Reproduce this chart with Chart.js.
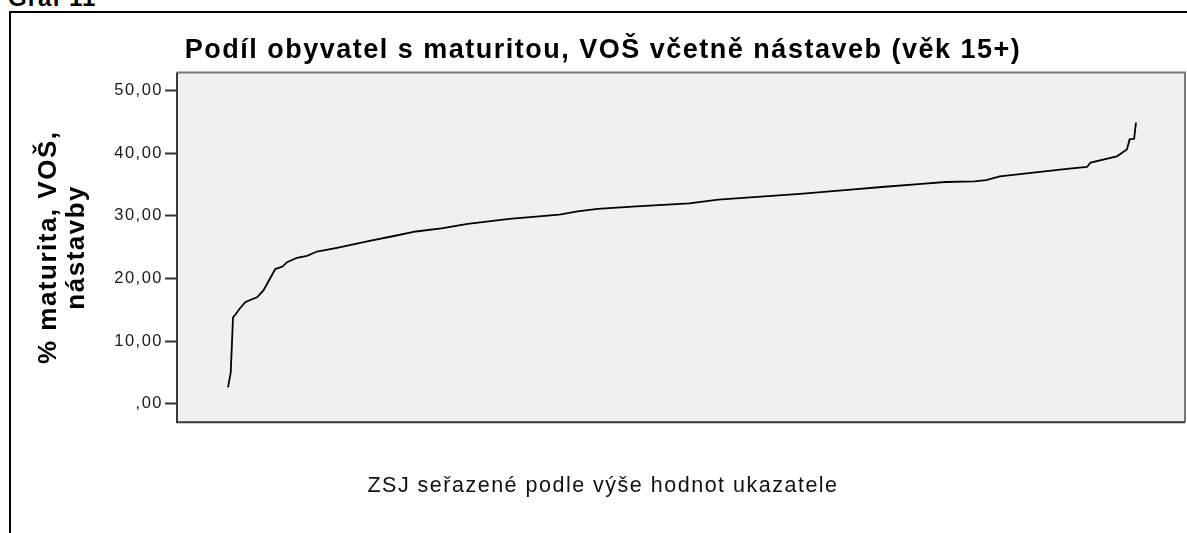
<!DOCTYPE html>
<html>
<head>
<meta charset="utf-8">
<script src="https://cdn.jsdelivr.net/npm/chart.js@4/dist/chart.umd.min.js"></script>
<style>
  html, body { margin: 0; padding: 0; background: #fff; overflow: hidden; }
  #graf { position: absolute; left: 8px; top: -14px; font: bold 24px "Liberation Sans", Arial, sans-serif; color: #000; line-height: 24px; letter-spacing: 1px; }
  #ramec { position: absolute; left: 9px; top: 11px; width: 1400px; height: 800px; border-left: 2px solid #000; border-top: 2px solid #000; }
  #wrap { position: absolute; left: 0; top: 0; width: 1187px; height: 533px; }
</style>
</head>
<body>
<div id="graf">Graf 11</div>
<div id="ramec"></div>
<div id="wrap"><canvas id="graf11"></canvas></div>
<script>
// poradi ZSJ (v % z poctu jednotek) a podil obyvatel s maturitou
const poradi = [0, 0.3, 0.55, 0.8, 1.3, 1.9, 2.5, 3.2, 3.9, 4.4, 5.2, 6.0, 6.5, 7.6, 8.7, 9.8, 12.0, 15.6, 18.0, 20.7, 23.5, 26.4, 31, 36.5, 38.5, 40.7, 45, 50.8, 54, 57.9, 63, 68.6, 72, 76.4, 79, 82.2, 83.5, 85.0, 88.7, 92.4, 94.6, 95.0, 97.9, 99.0, 99.3, 99.8, 100];
const podil = [2.6, 5.0, 13.8, 14.2, 15.2, 16.2, 16.6, 17.0, 18.1, 19.4, 21.5, 21.9, 22.6, 23.3, 23.6, 24.3, 24.9, 26.0, 26.7, 27.5, 28.0, 28.7, 29.5, 30.2, 30.7, 31.1, 31.5, 32.0, 32.6, 33.0, 33.5, 34.2, 34.6, 35.1, 35.4, 35.5, 35.7, 36.3, 36.9, 37.5, 37.8, 38.5, 39.5, 40.6, 42.2, 42.3, 44.9];
const yTicks = [0, 10, 20, 30, 40, 50];
const yTickLabels = [",00", "10,00", "20,00", "30,00", "40,00", "50,00"];

const plotFrame = {
  id: "plotFrame",
  beforeDraw(chart) {
    const { ctx, chartArea: a } = chart;
    ctx.letterSpacing = "1.5px";
    ctx.save();
    ctx.fillStyle = "#f0f0f0";
    ctx.fillRect(a.left, a.top, a.right - a.left, a.bottom - a.top);
    ctx.restore();
  },
  afterDraw(chart) {
    const { ctx, chartArea: a } = chart;
    ctx.save();
    ctx.lineWidth = 2;
    ctx.strokeStyle = "#777";
    ctx.beginPath();
    ctx.moveTo(a.left, a.top);
    ctx.lineTo(a.right, a.top);
    ctx.lineTo(a.right, a.bottom);
    ctx.stroke();
    ctx.strokeStyle = "#3a3a3a";
    ctx.beginPath();
    ctx.moveTo(a.left, a.top);
    ctx.lineTo(a.left, a.bottom);
    ctx.lineTo(a.right, a.bottom);
    ctx.stroke();
    ctx.restore();
  }
};

new Chart(document.getElementById("graf11"), {
  type: "line",
  data: {
    datasets: [{
      data: poradi.map((p, i) => ({ x: p, y: podil[i] })),
      borderColor: "#000",
      borderWidth: 1.8,
      pointRadius: 0,
      tension: 0,
      fill: false
    }]
  },
  options: {
    responsive: true,
    maintainAspectRatio: false,
    animation: false,
    layout: { padding: { left: 21, right: 2, top: 0, bottom: 0 } },
    plugins: {
      legend: { display: false },
      tooltip: { enabled: false },
      title: {
        display: true,
        text: "Podíl obyvatel s maturitou, VOŠ včetně nástaveb (věk 15+)",
        color: "#000",
        font: { family: "'Liberation Sans', Arial, sans-serif", size: 27, weight: "bold", lineHeight: 1.2 },
        padding: { top: 34, bottom: 6 }
      },
      subtitle: {
        display: true,
        position: "bottom",
        text: "ZSJ seřazené podle výše hodnot ukazatele",
        color: "#111",
        font: { family: "'Liberation Sans', Arial, sans-serif", size: 21.5, weight: "normal", lineHeight: 1.2 },
        padding: { top: 51, bottom: 34 }
      }
    },
    scales: {
      x: {
        type: "linear",
        display: false,
        min: -5.62,
        max: 105.4
      },
      y: {
        min: -2.95,
        max: 52.9,
        afterFit(scale) { scale.width = 156; },
        afterBuildTicks(scale) { scale.ticks = yTicks.map(v => ({ value: v })); },
        border: { display: false },
        grid: { drawOnChartArea: false, drawTicks: true, tickLength: 12, tickWidth: 2, tickColor: "#333" },
        ticks: {
          color: "#1a1a1a",
          padding: 2,
          font: { family: "'Liberation Sans', Arial, sans-serif", size: 16.5 },
          callback: (v) => yTickLabels[yTicks.indexOf(v)]
        },
        title: {
          display: true,
          text: ["% maturita, VOŠ,", "nástavby"],
          color: "#000",
          font: { family: "'Liberation Sans', Arial, sans-serif", size: 26, weight: "bold", lineHeight: 1.08 },
          padding: { top: 14, bottom: 0 }
        }
      }
    }
  },
  plugins: [plotFrame]
});
</script>
</body>
</html>
